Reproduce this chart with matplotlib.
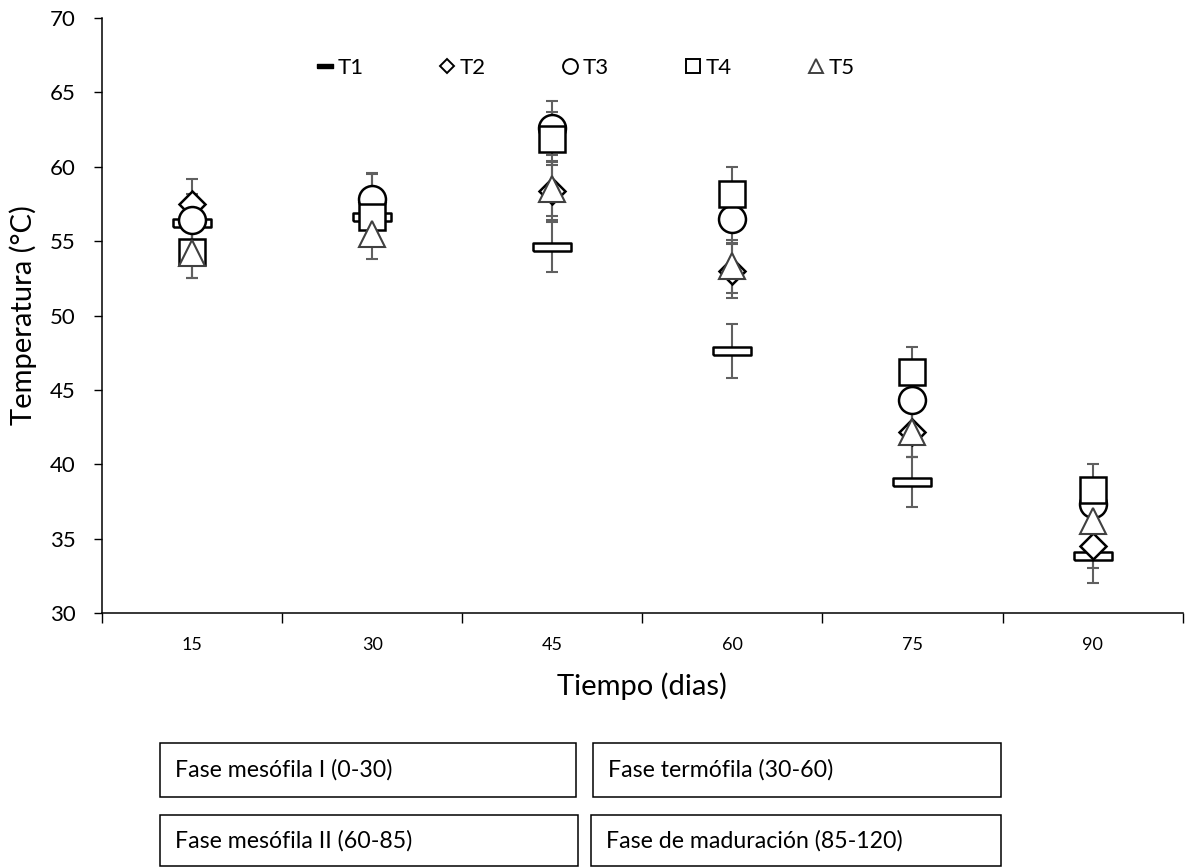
import numpy as np
import matplotlib
matplotlib.use("Agg")
import matplotlib.pyplot as plt
from matplotlib.lines import Line2D
from matplotlib.patches import Rectangle

plt.rcParams['font.family'] = ['Lato', 'DejaVu Sans']

# Datos
dias = ["15", "30", "45", "60", "75", "90"]
series = ["T1", "T2", "T3", "T4", "T5"]

t1 = [56.2, 56.6, 54.6, 47.6, 38.8, 33.8]
t2 = [57.5, 57.6, 58.4, 53.0, 42.2, 34.5]
t3 = [56.4, 57.8, 62.6, 56.5, 44.3, 37.3]
t4 = [54.3, 56.6, 61.9, 58.2, 46.2, 38.3]
t5 = [54.2, 55.5, 58.5, 53.3, 42.2, 36.2]

e1 = [1.8, 1.8, 1.7, 1.8, 1.7, 1.8]
e2 = [1.7, 1.9, 2.0, 1.8, 1.7, 1.5]
e3 = [1.8, 1.8, 1.8, 1.6, 1.7, 1.7]
e4 = [1.8, 1.7, 1.8, 1.8, 1.7, 1.7]
e5 = [1.7, 1.7, 1.8, 1.8, 1.7, 1.6]

fases = ["Fase mesófila I (0-30)", "Fase termófila (30-60)",
         "Fase mesófila II (60-85)", "Fase de maduración (85-120)"]

# marcador rectangular para T1
rect = [(-1, -0.2), (1, -0.2), (1, 0.2), (-1, 0.2), (-1, -0.2)]

estilos = [
    dict(marker=rect, ms=27.4, mec='black', mew=1.8),
    dict(marker='D', ms=13.7, mec='black', mew=1.8),
    dict(marker='o', ms=19.4, mec='black', mew=1.8),
    dict(marker='s', ms=19.4, mec='black', mew=1.8),
    dict(marker='^', ms=19.4, mec='#404040', mew=1.5),
]

valores = [t1, t2, t3, t4, t5]
errores = [e1, e2, e3, e4, e5]

fig = plt.figure(figsize=(11.85, 8.67), dpi=100)
ax = fig.add_axes([0.0861, 0.2930, 0.9119, 0.6862])

x = np.arange(len(dias))

# barras de error debajo
for v, e in zip(valores, errores):
    ax.errorbar(x, v, yerr=e, fmt='none', ecolor='#606060', elinewidth=1.5,
                capsize=4.5, capthick=1.5, zorder=1)

# marcadores
for i, (v, st) in enumerate(zip(valores, estilos)):
    ax.plot(x, v, linestyle='none', mfc='white', zorder=2 + i, **st)

ax.set_xlim(-0.5, len(dias) - 0.5)
ax.set_ylim(30, 70)
ax.set_yticks(np.arange(30, 71, 5))

ax.set_xticks(np.arange(-0.5, len(dias), 1.0))
ax.set_xticklabels([])
ax.set_xticks(x, minor=True)
ax.set_xticklabels(dias, minor=True)
ax.tick_params(axis='x', which='major', direction='out', length=7, width=1.0)
ax.tick_params(axis='x', which='minor', length=0, labelsize=13, pad=17.5)
ax.tick_params(axis='y', direction='out', length=6, width=1.0, labelsize=16,
               pad=13)

for s in ['top', 'right']:
    ax.spines[s].set_visible(False)
for s in ['left', 'bottom']:
    ax.spines[s].set_linewidth(1.1)

ax.set_ylabel("Temperatura (°C)", fontsize=21, labelpad=9)
ax.set_xlabel("Tiempo (dias)", fontsize=21, labelpad=14)

# leyenda
handles = []
for i, (nombre, st) in enumerate(zip(series, estilos)):
    if i == 0:
        h = Line2D([], [], linestyle='none', marker=rect, ms=12,
                   mfc='black', mec='black', mew=1.0)
    else:
        h = Line2D([], [], linestyle='none', marker=st['marker'],
                   ms=st['ms'] * 0.55, mfc='white', mec=st['mec'], mew=1.4)
    handles.append(h)
fig.legend(handles, series, loc='center', bbox_to_anchor=(0.494, 0.922),
           ncol=5, frameon=False, fontsize=16, handlelength=0.75,
           handletextpad=0.2, columnspacing=3.4)

# recuadros de fases
W, H = 1185.0, 867.0
cajas = [(160, 743, 576, 797), (593, 743, 1001, 797),
         (160, 815, 578, 866), (591, 815, 1001, 866)]
for texto, (x0, y0, x1, y1) in zip(fases, cajas):
    fig.patches.append(Rectangle((x0 / W, 1 - y1 / H), (x1 - x0) / W,
                                 (y1 - y0) / H, transform=fig.transFigure,
                                 fill=False, edgecolor='black', linewidth=1.1))
    fig.text((x0 + 15) / W, 1 - ((y0 + y1) / 2) / H, texto, fontsize=16.7,
             ha='left', va='center')

fig.savefig("out.png", dpi=100)
